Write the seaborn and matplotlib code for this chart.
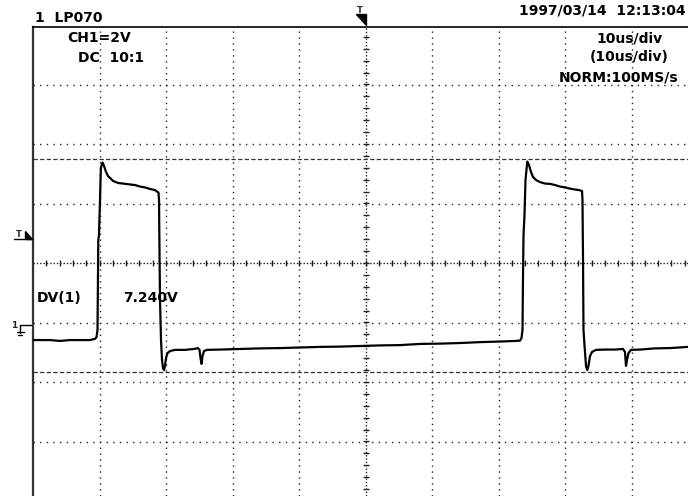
import numpy as np
import matplotlib
matplotlib.use("Agg")
import matplotlib.pyplot as plt
from matplotlib.patches import Polygon
from matplotlib.lines import Line2D
import seaborn as sns

# ---------------- data (time in us, voltage in V; 10us/div, 2V/div) ----------------
time_us = [-50.00, -47.44, -45.94, -44.44, -42.93, -41.43, -40.68, -40.45,
           -40.30, -40.18, -40.08, -39.92, -39.80, -39.55,
           -39.32, -39.02, -38.72, -38.42, -37.97, -37.22, -36.47, -35.41,
           -34.66, -33.91, -33.16, -32.41, -31.65, -31.35, -31.13,
           -31.05, -30.98, -30.90, -30.75, -30.60, -30.45, -30.30, -30.15,
           -30.00, -29.77, -29.40, -28.65, -27.14, -25.79, -25.19, -24.96,
           -24.81, -24.66, -24.51, -24.29, -23.83, -21.88, -18.87, -15.86,
           -12.86, -9.85, -6.84, -3.83, -0.83, 2.18, 5.19, 8.20, 11.20,
           14.21, 17.22, 20.23, 22.48, 23.23, 23.46,
           23.61, 23.68, 23.76, 23.91, 24.06, 24.33,
           24.59, 24.89, 25.19, 25.64, 26.24, 26.99, 27.74, 28.50, 29.25,
           30.00, 30.75, 31.50, 32.11, 32.56,
           32.63, 32.71, 32.78, 32.93, 33.16, 33.35, 33.53, 33.76, 34.06,
           34.66, 36.02, 37.52, 38.72, 39.02, 39.17, 39.32, 39.55, 39.92,
           41.28, 43.53, 45.79, 48.50, 50.00]
volts = [-2.59, -2.59, -2.62, -2.59, -2.59, -2.59, -2.55, -2.49,
         -2.25, 0.77, 0.94, 2.12, 3.19, 3.38,
         3.26, 3.06, 2.92, 2.86, 2.76, 2.69, 2.67, 2.64,
         2.62, 2.57, 2.54, 2.49, 2.45, 2.40, 2.37,
         2.12, 0.44, -1.24, -2.59, -3.26, -3.53, -3.60, -3.46,
         -3.19, -3.03, -2.96, -2.92, -2.92, -2.89, -2.86, -2.92,
         -3.19, -3.39, -3.13, -2.96, -2.92, -2.91, -2.89, -2.87,
         -2.86, -2.84, -2.82, -2.81, -2.79, -2.77, -2.76, -2.72, -2.71,
         -2.69, -2.66, -2.64, -2.62, -2.61, -2.52,
         -2.25, -0.57, 0.94, 1.61, 2.79, 3.41,
         3.29, 3.06, 2.89, 2.79, 2.72, 2.67, 2.66, 2.62, 2.57,
         2.54, 2.50, 2.47, 2.45, 2.42,
         2.12, 0.10, -2.25, -2.76, -3.46, -3.60, -3.46, -3.13, -2.99,
         -2.92, -2.91, -2.91, -2.89, -2.99, -3.46, -3.26, -3.03, -2.92,
         -2.91, -2.87, -2.86, -2.82, -2.81]

cursor_levels = [3.50, -3.68]
v_grid = [-6, -4, -2, 2, 4, 6]
t_grid = [-40, -30, -20, -10, 10, 20, 30, 40]

header_left = "1  LP070"
header_right = "1997/03/14  12:13:04"
ch_label = "CH1=2V"
coupling_label = "DC  10:1"
timebase_labels = ["10us/div", "(10us/div)", "NORM:100MS/s"]
dv_label = "DV(1)"
dv_value = "7.240V"

# ---------------- figure ----------------
sns.set_theme(style="white")
plt.rcParams["font.family"] = ["DejaVu Sans"]

W, H = 688, 496
fig = plt.figure(figsize=(W / 100, H / 100), dpi=100, facecolor="white")
ax = fig.add_axes([33 / W, 0, 665 / W, 1 - 27 / H])
ax.set_facecolor("white")

def P(x, y):
    return (x / W, 1 - y / H)

dot = "#222222"
for v in v_grid:
    ax.axhline(v, color=dot, lw=1.0, ls=(0, (1, 3.78)), zorder=1)
for t in t_grid:
    ax.axvline(t, color=dot, lw=1.0, ls=(0, (1, 3.28)), zorder=1)

# centre axes with small ticks
ax.axhline(0, color=dot, lw=1.0, ls=(0, (1, 1.4)), zorder=1)
ax.axvline(0, color=dot, lw=1.0, ls=(0, (1, 1.4)), zorder=1)
tt = np.arange(-48, 50, 2)
ax.plot(tt, np.zeros_like(tt), ls="none", marker="|", ms=4, mew=1.0, color=dot, zorder=1)
vv = np.arange(-7.6, 8.0, 0.4)
ax.plot(np.zeros_like(vv), vv, ls="none", marker="_", ms=5, mew=1.0, color=dot, zorder=1)

# cursors
for c in cursor_levels:
    ax.axhline(c, color="#333333", lw=0.9, ls=(0, (3.44, 1.84)), zorder=2)

# trace
sns.lineplot(x=time_us, y=volts, ax=ax, sort=False, estimator=None,
             color="black", lw=1.6, legend=False, zorder=3)

ax.set_xlim(-50, 50)
ax.set_ylim((263 - 496) / 29.75, (263 - 27) / 29.75)
ax.set_xticks([])
ax.set_yticks([])
ax.set_xlabel("")
ax.set_ylabel("")
for s in ["right", "bottom"]:
    ax.spines[s].set_visible(False)
ax.spines["top"].set_color("black")
ax.spines["top"].set_linewidth(1.2)
ax.spines["left"].set_color("#333333")
ax.spines["left"].set_linewidth(1.6)

# ---------------- texts ----------------
tk = dict(fontsize=10, fontweight="bold", color="black", va="baseline")
fig.text(*P(35, 21.5), header_left, ha="left", **tk)
fig.text(*P(686, 15), header_right, ha="right", **tk)
fig.text(*P(67, 42), ch_label, ha="left", **tk)
fig.text(*P(78, 61.5), coupling_label, ha="left", **tk)
fig.text(*P(630, 42), timebase_labels[0], ha="center", **tk)
fig.text(*P(629.5, 61), timebase_labels[1], ha="center", **tk)
fig.text(*P(618.5, 81.5), timebase_labels[2], ha="center", **tk)
fig.text(*P(37, 302), dv_label, ha="left", **tk)
fig.text(*P(123, 302), dv_value, ha="left", **tk)

# trigger marker (top)
fig.text(*P(359.5, 13), "T", ha="center", va="baseline", fontsize=6, fontweight="bold")
fig.add_artist(Polygon([P(356, 14), P(366, 14), P(366, 25)], closed=True,
                       transform=fig.transFigure, color="black"))
# trigger level marker (left)
fig.text(*P(19, 237), "T", ha="center", va="baseline", fontsize=6, fontweight="bold")
fig.add_artist(Line2D([14 / W, 32 / W], [1 - 238.5 / H, 1 - 238.5 / H],
                      transform=fig.transFigure, color="black", lw=1.0))
fig.add_artist(Polygon([P(25, 231), P(25, 238.5), P(32, 238.5)], closed=True,
                       transform=fig.transFigure, color="black"))
# ground marker
fig.text(*P(14.5, 328), "1", ha="center", va="baseline", fontsize=6.5, fontweight="bold")
for xs, ys in [((20, 20), (325, 333)), ((20, 30.5), (325, 325)),
               ((16.5, 23.5), (332, 332)), ((18, 22), (334.5, 334.5))]:
    fig.add_artist(Line2D([x / W for x in xs], [1 - y / H for y in ys],
                          transform=fig.transFigure, color="black", lw=1.0))

fig.savefig("out.png", dpi=100, facecolor="white")
